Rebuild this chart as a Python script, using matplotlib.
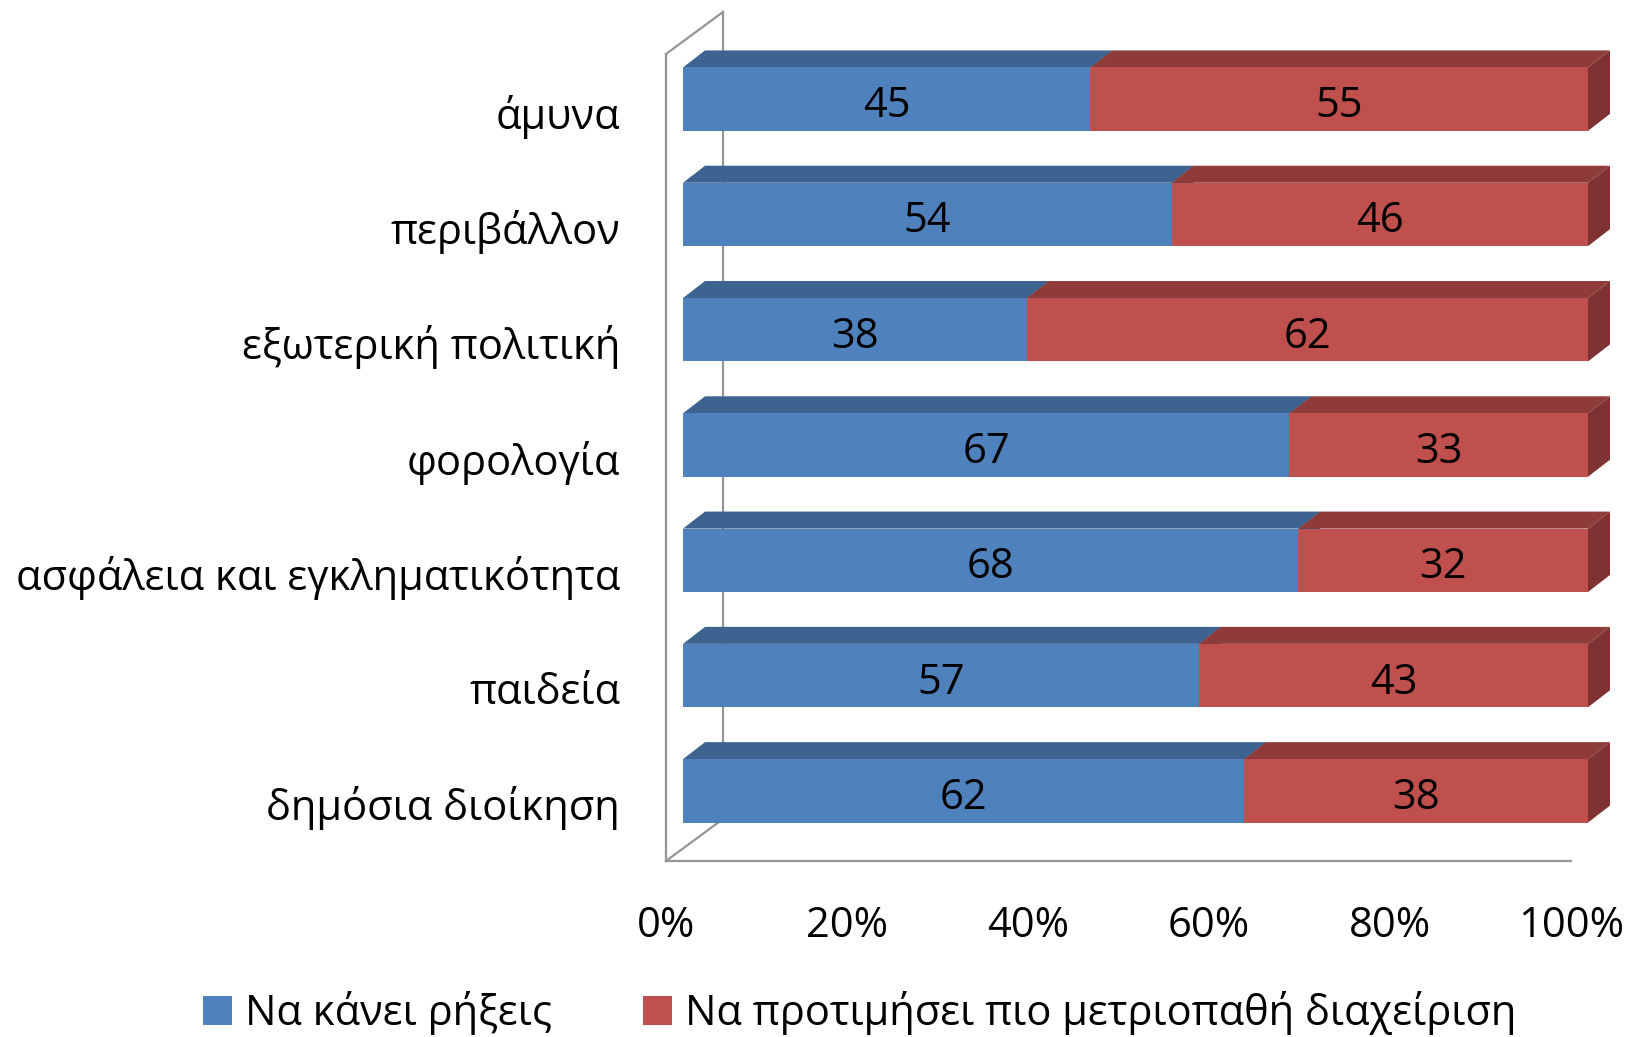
import numpy as np
import matplotlib.pyplot as plt
from matplotlib.patches import Polygon, Patch

categories = ['άμυνα', 'περιβάλλον', 'εξωτερική πολιτική', 'φορολογία',
              'ασφάλεια και εγκληματικότητα', 'παιδεία', 'δημόσια διοίκηση']
breaks = [45, 54, 38, 67, 68, 57, 62]
moderate = [55, 46, 62, 33, 32, 43, 38]
series_names = ['Να κάνει ρήξεις', 'Να προτιμήσει πιο μετριοπαθή διαχείριση']
xticks = [0, 20, 40, 60, 80, 100]

# front / top / side shades for each series
colors = [('#4F81BD', '#3D6391', '#33547A'),
          ('#C0504D', '#8F3B39', '#7E3332')]
wall_color = '#959595'

plt.rcParams['font.family'] = ['Open Sans', 'DejaVu Sans']

fig = plt.figure(figsize=(16.25, 10.37), dpi=100)
ax = fig.add_axes([666/1625, 1 - 861/1037, 905/1625, 807/1037])
n = len(categories)
ax.set_xlim(0, 100)
ax.set_ylim(n - 0.5, -0.5)
for s in ax.spines.values():
    s.set_visible(False)

# pixel offsets (right, up) -> data units
bb = ax.get_position()
px_x = bb.width * fig.get_figwidth() * fig.dpi / 100
px_y = bb.height * fig.get_figheight() * fig.dpi / n
def off(dx, dy):
    return dx / px_x, -dy / px_y

fx, fy = off(17, 12.5)   # front plane of the bars
dx, dy = off(22, 17)     # bar depth
wx, wy = off(57, 42)     # wall depth
_, ty = off(0, -7)       # nudge value labels down a bit
h = 0.55

# walls
kw = dict(color=wall_color, lw=1.6, clip_on=False)
ax.plot([wx, wx], [-0.5 + wy, n - 0.5 + wy], zorder=1, **kw)
ax.plot([0, wx], [n - 0.5, n - 0.5 + wy], zorder=1, **kw)
ax.plot([0, 0], [-0.5, n - 0.5], zorder=5, **kw)
ax.plot([0, wx], [-0.5, -0.5 + wy], zorder=5, **kw)
ax.plot([0, 100], [n - 0.5, n - 0.5], zorder=5, **kw)

for i in range(n):
    left = 0
    yt = i + fy - h / 2
    yb = i + fy + h / 2
    for k, v in enumerate([breaks[i], moderate[i]]):
        front, top, side = colors[k]
        x0, x1 = left + fx, left + v + fx
        ax.add_patch(Polygon([(x0, yt), (x1, yt), (x1 + dx, yt + dy), (x0 + dx, yt + dy)],
                             closed=True, fc=top, ec='none', zorder=2, clip_on=False))
        ax.add_patch(Polygon([(x1, yt), (x1, yb), (x1 + dx, yb + dy), (x1 + dx, yt + dy)],
                             closed=True, fc=side, ec='none', zorder=2, clip_on=False))
        ax.add_patch(Polygon([(x0, yt), (x1, yt), (x1, yb), (x0, yb)],
                             closed=True, fc=front, ec='none', zorder=3, clip_on=False))
        ax.text(left + v / 2 + fx, i + fy + ty, str(v), ha='center', va='center',
                fontsize=30, color='black', zorder=4)
        left += v

ax.set_yticks(range(n), categories)
ax.set_xticks(xticks, [f'{t}%' for t in xticks])
ax.tick_params(axis='y', length=0, pad=33, labelsize=30)
ax.tick_params(axis='x', length=0, pad=32, labelsize=30)

handles = [Patch(fc=colors[0][0]), Patch(fc=colors[1][0])]
fig.legend(handles, series_names, loc='center', bbox_to_anchor=(0.529, 0.023),
           ncol=2, frameon=False, fontsize=30, handlelength=0.7, handleheight=0.7,
           handletextpad=0.3, columnspacing=2.2)

fig.savefig('out.png', dpi=100)
